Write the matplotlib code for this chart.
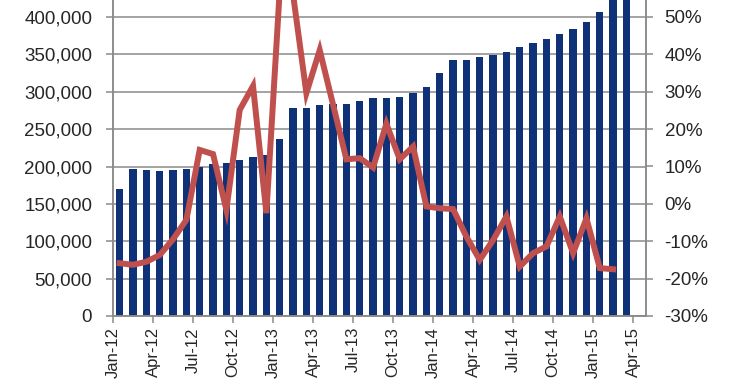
import numpy as np
import matplotlib
matplotlib.use('Agg')
import matplotlib.pyplot as plt
from matplotlib.ticker import FuncFormatter

plt.rcParams['font.family'] = ['Liberation Sans', 'DejaVu Sans']

# monthly volume (bars), Jan-12 .. Mar-15
volume = [169500, 196300, 196000, 193600, 195300, 197100, 200000, 203400,
          204300, 208700, 212300, 215000, 236800, 278300, 278300, 281900,
          284000, 283300, 287700, 292100, 292100, 293400, 298800, 306800,
          324700, 342100, 342100, 346500, 349600, 353200, 359500, 364800,
          370600, 377300, 383500, 393800, 407200, 428000, 435000]

# year-on-year growth (%), Jan-12 .. Feb-15
growth = [-15.9, -16.3, -15.5, -13.7, -9.5, -4.3, 14.4, 13.3, -1.6, 25.1,
          31.5, -2.5, 57.0, 56.0, 29.6, 41.1, 26.5, 11.9, 12.2, 9.7, 21.4,
          11.9, 15.3, -0.7, -1.2, -1.4, -8.8, -15.0, -9.7, -3.4, -16.8,
          -13.2, -11.4, -3.4, -13.2, -3.9, -17.2, -17.5]

tick_labels = ['Jan-12', 'Apr-12', 'Jul-12', 'Oct-12', 'Jan-13', 'Apr-13',
               'Jul-13', 'Oct-13', 'Jan-14', 'Apr-14', 'Jul-14', 'Oct-14',
               'Jan-15', 'Apr-15']

bar_col = '#0E3178'
line_col = '#C0504D'
grid_col = '#8A8A8A'
txt_col = '#262626'

fig = plt.figure(figsize=(7.4, 3.89), dpi=100)
ax = fig.add_axes([0.1527, 0.1877, 0.8736 - 0.1527, 1 - 0.1877])
ax2 = ax.twinx()

x = np.arange(len(volume))
ax.bar(x, volume, width=0.55, color=bar_col, zorder=2)
ax.set_xlim(-0.5, 39.5)
ax.set_ylim(0, 422800)
ax.set_yticks(np.arange(0, 400001, 50000))
ax.yaxis.set_major_formatter(FuncFormatter(lambda v, p: f'{int(v):,}'))
ax.grid(axis='y', color=grid_col, lw=1.1, zorder=0)
ax.set_axisbelow(True)

ax.set_xticks(np.arange(0, 40, 3) - 0.5)
ax.set_xticklabels(tick_labels, rotation=90)

xg = np.arange(len(growth))
ax2.plot(xg, growth, color=line_col, lw=4.3, solid_joinstyle='miter', zorder=3)
ax2.set_ylim(-30, 54.5)
ax2.set_yticks(np.arange(-30, 51, 10))
ax2.yaxis.set_major_formatter(FuncFormatter(lambda v, p: f'{int(v)}%'))

for a in (ax, ax2):
    for s in a.spines.values():
        s.set_color(grid_col)
        s.set_linewidth(1.1)
    a.spines['top'].set_visible(False)

ax.tick_params(axis='y', direction='out', length=5, width=1.1, color=grid_col,
               pad=10, labelsize=13.5, labelcolor=txt_col)
ax.tick_params(axis='x', direction='out', length=5, width=1.1, color=grid_col,
               pad=3, labelsize=12, labelcolor=txt_col)
ax2.tick_params(axis='y', direction='out', length=5, width=1.1, color=grid_col,
                pad=8, labelsize=13.5, labelcolor=txt_col)

fig.savefig('out.png', dpi=100)
